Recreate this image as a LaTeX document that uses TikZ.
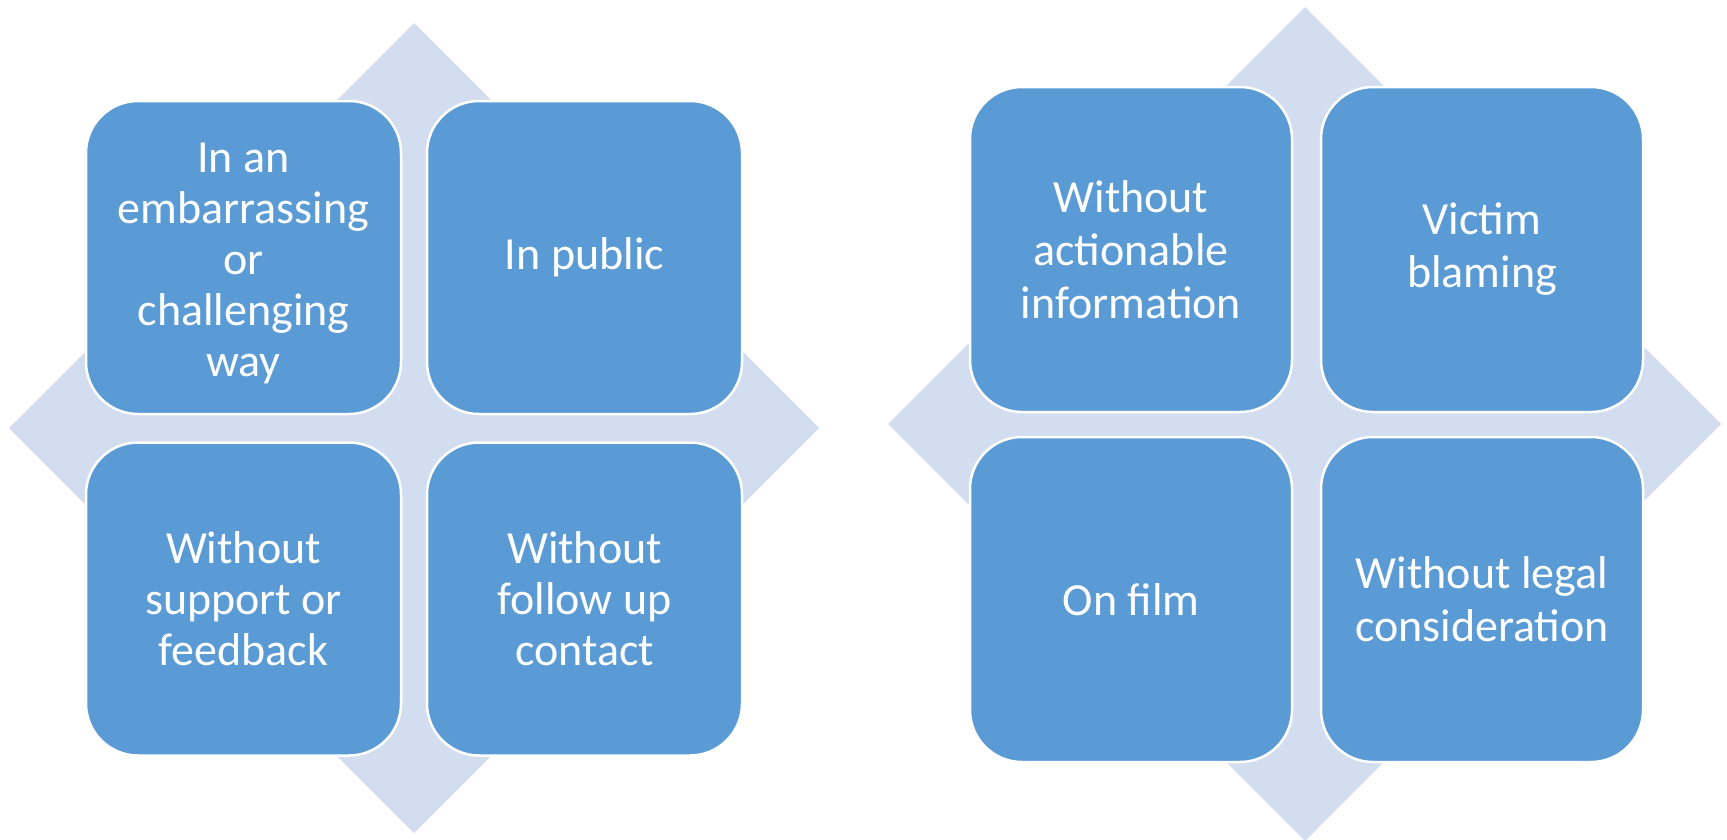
\documentclass[tikz,border=0pt]{standalone}
\usepackage{fontspec}
\setmainfont{Carlito}
\definecolor{boxblue}{HTML}{5B9BD5}
\definecolor{diamondbg}{HTML}{D2DEEF}
\tikzset{
  cell/.style={draw=white, line width=2.5pt, fill=boxblue, rounded corners=52pt,
    text=white, align=center, inner sep=0pt, anchor=center},
  cellL/.style={cell, minimum width=315pt, minimum height=313pt,
    font=\fontsize{46}{51}\selectfont},
  cellR/.style={cell, minimum width=322pt, minimum height=325pt,
    font=\fontsize{46}{53}\selectfont},
  celltext/.style={text=white, align=center, inner sep=0pt,
    font=\fontsize{46}{51}\selectfont},
  bgdiamond/.style={fill=diamondbg, draw=none}
}
\begin{document}
\begin{tikzpicture}[x=1pt, y=-1pt]
\useasboundingbox (0,0) rectangle (1727,839);
% left group
\fill[bgdiamond] (414,23) -- (819,428) -- (414,833) -- (9,428) -- cycle;
\node[cellL] (l1) at (243.5,257.5) {};
\node[celltext] (l1t) at ([yshift=-6pt]l1.center) {In an\\embarrassing\\or\\challenging\\way};
\node[cellL] (l2) at (584.5,257.5) {In public};
\node[cellL] (l3) at (243.5,599) {Without\\support or\\feedback};
\node[cellL] (l4) at (584.5,599) {Without\\follow up\\contact};
% right group
\fill[bgdiamond] (1305,7) -- (1721,424) -- (1305,841) -- (888,424) -- cycle;
\node[cellR] (r1) at (1131,249.5) {Without\\actionable\\information};
\node[cellR] (r2) at (1482,249.5) {Victim\\blaming};
\node[cellR] (r3) at (1131,599.5) {On film};
\node[cellR] (r4) at (1482,599.5) {Without legal\\consideration};
\end{tikzpicture}
\end{document}
